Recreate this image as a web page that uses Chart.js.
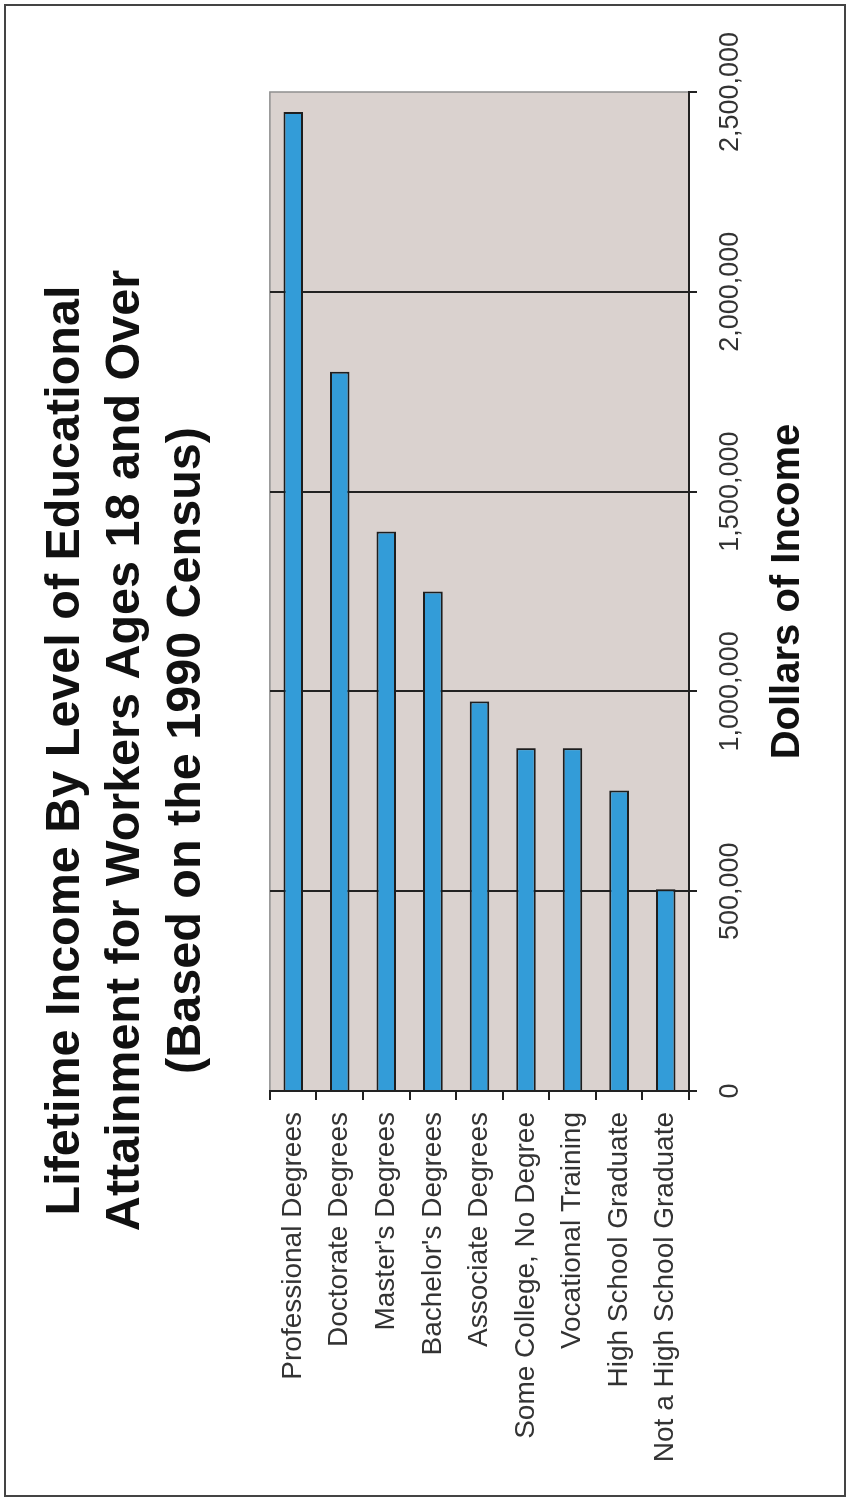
<!DOCTYPE html>
<html>
<head>
<meta charset="utf-8">
<script src="https://cdn.jsdelivr.net/npm/chart.js@4"></script>
<style>
  html, body { margin: 0; padding: 0; background: #fff; overflow: hidden; }
  body { width: 849px; height: 1501px; position: relative; }
  #frame { position: absolute; left: 4px; top: 4px; width: 842px; height: 1493px; box-sizing: border-box; border: 2px solid #444; }
  /* chart is drawn landscape and turned a quarter left */
  #chart { position: absolute; left: -326px; top: 326px; transform: rotate(-90deg); }
</style>
</head>
<body>
<canvas id="chart" width="1501" height="849"></canvas>
<div id="frame"></div>
<script>
// data
var categories = ["Professional Degrees", "Doctorate Degrees", "Master's Degrees", "Bachelor's Degrees",
  "Associate Degrees", "Some College, No Degree", "Vocational Training", "High School Graduate",
  "Not a High School Graduate"];
var income = [2450000, 1800000, 1400000, 1250000, 975000, 858000, 858000, 752000, 505000];
var incomeTicks = [0, 500000, 1000000, 1500000, 2000000, 2500000];
var titleLines = ["Lifetime Income By Level of Educational",
  "Attainment for Workers Ages 18 and Over",
  "(Based on the 1990 Census)"];

Chart.defaults.font.family = "'Liberation Sans', Arial, sans-serif";

// grey plot area with a thin grey frame
var plotBg = {
  id: 'plotBg',
  beforeDraw: function(chart) {
    var a = chart.chartArea, c = chart.ctx;
    c.save();
    c.fillStyle = '#dad2cf';
    c.fillRect(a.left, a.top, a.right - a.left, a.bottom - a.top);
    c.strokeStyle = '#8f8f8f';
    c.lineWidth = 1.5;
    c.strokeRect(a.left, a.top, a.right - a.left, a.bottom - a.top);
    c.restore();
  }
};

var ctx = document.getElementById('chart').getContext('2d');
var incomeChart = new Chart(ctx, {
  type: 'bar',
  data: {
    labels: categories,
    datasets: [{
      data: income,
      backgroundColor: '#339cd8',
      borderColor: '#1e1e1e',
      borderWidth: 2,
      barPercentage: 0.42,
      categoryPercentage: 1
    }]
  },
  options: {
    indexAxis: 'y',
    responsive: false,
    animation: false,
    layout: { padding: 0 },
    plugins: {
      legend: { display: false },
      tooltip: { enabled: false },
      title: {
        display: true,
        text: titleLines,
        color: '#111',
        font: { size: 48.5, weight: 'bold', lineHeight: 1.25 },
        padding: { top: 35, bottom: 53 }
      }
    },
    scales: {
      x: {
        min: 0,
        max: 2500000,
        afterBuildTicks: function(axis) {
          axis.ticks = incomeTicks.map(function(v) { return { value: v }; });
        },
        grid: {
          color: function(c) { return c.tick && c.tick.value === 2500000 ? 'rgba(0,0,0,0)' : '#222'; },
          lineWidth: 2,
          tickLength: 8,
          tickColor: '#222'
        },
        border: { display: true, color: '#222', width: 2 },
        ticks: {
          font: { size: 27 },
          color: '#333',
          padding: 17,
          maxRotation: 0,
          callback: function(v) { return Number(v).toLocaleString('en-US'); }
        },
        title: {
          display: true,
          text: 'Dollars of Income',
          color: '#111',
          font: { size: 40, weight: 'bold' },
          padding: { top: 10, bottom: 37 }
        },
        afterFit: function(s) { s.height = 160; s.paddingRight = 92; }
      },
      y: {
        grid: {
          offset: true,
          drawOnChartArea: false,
          tickLength: 9,
          color: '#222',
          lineWidth: 2
        },
        border: { display: true, color: '#222', width: 2 },
        ticks: {
          font: { size: 28 },
          color: '#333',
          padding: 12,
          autoSkip: false
        },
        afterFit: function(s) { s.width = 410; }
      }
    }
  },
  plugins: [plotBg]
});
</script>
</body>
</html>
